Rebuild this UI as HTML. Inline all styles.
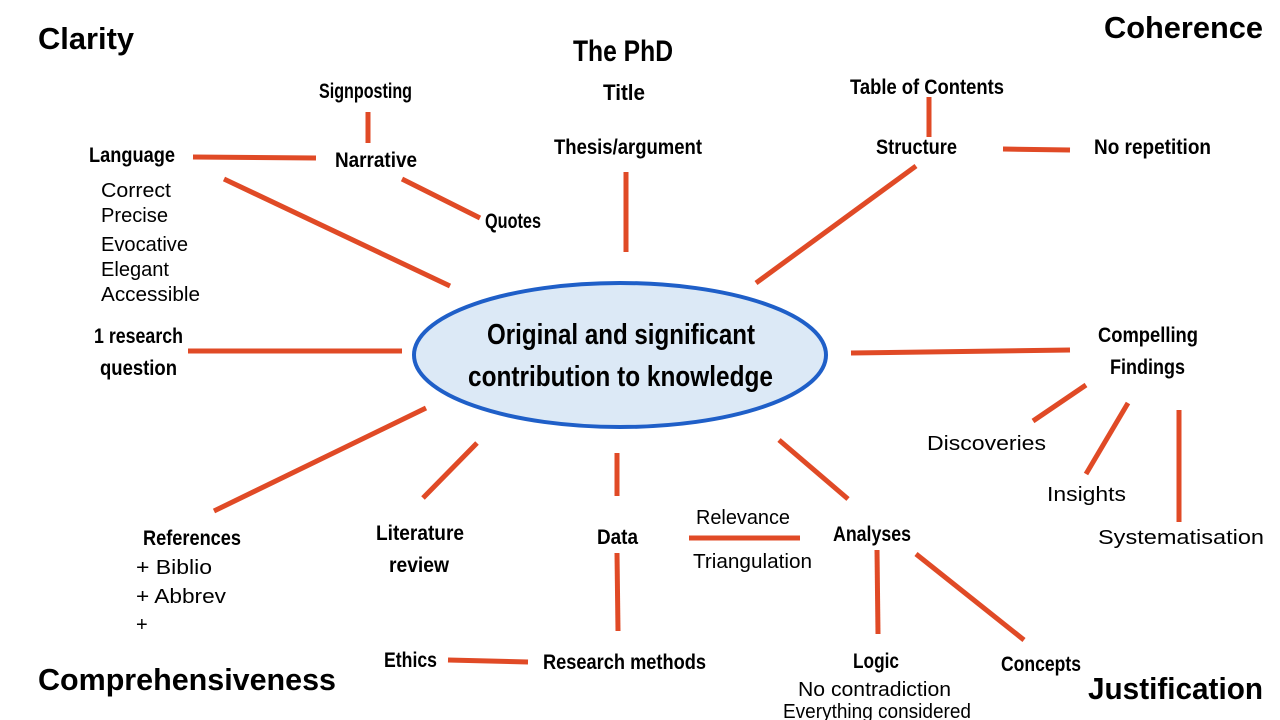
<!DOCTYPE html>
<html><head><meta charset="utf-8"><style>
html,body{margin:0;padding:0;background:#fff;width:1280px;height:720px;overflow:hidden}
svg text{font-family:"Liberation Sans",sans-serif;fill:#000}
.c{font-weight:bold;font-size:21px}
.r{font-size:20px}
.h{font-weight:bold;font-size:30.5px}
line{stroke:#e04a26;stroke-width:5}
</style></head><body>
<svg width="1280" height="720" viewBox="0 0 1280 720" xmlns="http://www.w3.org/2000/svg">
<g>
<line x1="193" y1="157" x2="316" y2="158"/>
<line x1="368" y1="112" x2="368" y2="143"/>
<line x1="402" y1="179" x2="480" y2="218"/>
<line x1="224" y1="179" x2="450" y2="286"/>
<line x1="626" y1="172" x2="626" y2="252"/>
<line x1="916" y1="166" x2="756" y2="283"/>
<line x1="929" y1="97" x2="929" y2="137"/>
<line x1="1003" y1="149" x2="1070" y2="150"/>
<line x1="188" y1="351" x2="402" y2="351"/>
<line x1="851" y1="353" x2="1070" y2="350"/>
<line x1="1086" y1="385" x2="1033" y2="421"/>
<line x1="1128" y1="403" x2="1086" y2="474"/>
<line x1="1179" y1="410" x2="1179" y2="522"/>
<line x1="214" y1="511" x2="426" y2="408"/>
<line x1="423" y1="498" x2="477" y2="443"/>
<line x1="617" y1="453" x2="617" y2="496"/>
<line x1="689" y1="538" x2="800" y2="538"/>
<line x1="779" y1="440" x2="848" y2="499"/>
<line x1="617" y1="553" x2="618" y2="631"/>
<line x1="448" y1="660" x2="528" y2="662"/>
<line x1="877" y1="550" x2="878" y2="634"/>
<line x1="916" y1="554" x2="1024" y2="640"/>
</g>
<ellipse cx="620" cy="355" rx="206" ry="72" fill="#dce9f6" stroke="#1f5fc8" stroke-width="4"/>
<g lengthAdjust="spacingAndGlyphs">
<text class="c" x="487" y="344" style="font-size:29px" textLength="268" lengthAdjust="spacingAndGlyphs">Original and significant</text>
<text class="c" x="468" y="386" style="font-size:29px" textLength="305" lengthAdjust="spacingAndGlyphs">contribution to knowledge</text>

<text class="h" x="38" y="49" textLength="96" lengthAdjust="spacingAndGlyphs">Clarity</text>
<text class="h" x="1104" y="38" textLength="159" lengthAdjust="spacingAndGlyphs">Coherence</text>
<text class="h" x="38" y="690" textLength="298" lengthAdjust="spacingAndGlyphs">Comprehensiveness</text>
<text class="h" x="1088" y="699" textLength="175" lengthAdjust="spacingAndGlyphs">Justification</text>

<text class="c" x="573" y="61" style="font-size:30px" textLength="100" lengthAdjust="spacingAndGlyphs">The PhD</text>
<text class="c" x="603" y="100" style="font-size:22px" textLength="42" lengthAdjust="spacingAndGlyphs">Title</text>
<text class="c" x="554" y="154" textLength="148" lengthAdjust="spacingAndGlyphs">Thesis/argument</text>
<text class="c" x="319" y="98" textLength="93" lengthAdjust="spacingAndGlyphs">Signposting</text>
<text class="c" x="335" y="167" textLength="82" lengthAdjust="spacingAndGlyphs">Narrative</text>
<text class="c" x="89" y="162" textLength="86" lengthAdjust="spacingAndGlyphs">Language</text>
<text class="c" x="485" y="228" textLength="56" lengthAdjust="spacingAndGlyphs">Quotes</text>
<text class="r" x="101" y="197" textLength="70" lengthAdjust="spacingAndGlyphs">Correct</text>
<text class="r" x="101" y="222" textLength="67" lengthAdjust="spacingAndGlyphs">Precise</text>
<text class="r" x="101" y="251" textLength="87" lengthAdjust="spacingAndGlyphs">Evocative</text>
<text class="r" x="101" y="276" textLength="68" lengthAdjust="spacingAndGlyphs">Elegant</text>
<text class="r" x="101" y="301" textLength="99" lengthAdjust="spacingAndGlyphs">Accessible</text>
<text class="c" x="94" y="343" textLength="89" lengthAdjust="spacingAndGlyphs">1 research</text>
<text class="c" x="100" y="375" textLength="77" lengthAdjust="spacingAndGlyphs">question</text>
<text class="c" x="850" y="94" textLength="154" lengthAdjust="spacingAndGlyphs">Table of Contents</text>
<text class="c" x="876" y="154" textLength="81" lengthAdjust="spacingAndGlyphs">Structure</text>
<text class="c" x="1094" y="154" textLength="117" lengthAdjust="spacingAndGlyphs">No repetition</text>
<text class="c" x="1098" y="342" textLength="100" lengthAdjust="spacingAndGlyphs">Compelling</text>
<text class="c" x="1110" y="374" textLength="75" lengthAdjust="spacingAndGlyphs">Findings</text>
<text class="r" x="927" y="450" textLength="119" lengthAdjust="spacingAndGlyphs">Discoveries</text>
<text class="r" x="1047" y="501" textLength="79" lengthAdjust="spacingAndGlyphs">Insights</text>
<text class="r" x="1098" y="544" textLength="166" lengthAdjust="spacingAndGlyphs">Systematisation</text>
<text class="c" x="143" y="545" textLength="98" lengthAdjust="spacingAndGlyphs">References</text>
<text class="r" x="136" y="574" textLength="76" lengthAdjust="spacingAndGlyphs">+ Biblio</text>
<text class="r" x="136" y="603" textLength="90" lengthAdjust="spacingAndGlyphs">+ Abbrev</text>
<text class="r" x="136" y="631">+</text>
<text class="c" x="376" y="540" textLength="88" lengthAdjust="spacingAndGlyphs">Literature</text>
<text class="c" x="389" y="572" textLength="60" lengthAdjust="spacingAndGlyphs">review</text>
<text class="c" x="597" y="544" textLength="41" lengthAdjust="spacingAndGlyphs">Data</text>
<text class="r" x="696" y="524" textLength="94" lengthAdjust="spacingAndGlyphs">Relevance</text>
<text class="r" x="693" y="568" textLength="119" lengthAdjust="spacingAndGlyphs">Triangulation</text>
<text class="c" x="833" y="541" textLength="78" lengthAdjust="spacingAndGlyphs">Analyses</text>
<text class="c" x="384" y="667" textLength="53" lengthAdjust="spacingAndGlyphs">Ethics</text>
<text class="c" x="543" y="669" textLength="163" lengthAdjust="spacingAndGlyphs">Research methods</text>
<text class="c" x="853" y="668" textLength="46" lengthAdjust="spacingAndGlyphs">Logic</text>
<text class="c" x="1001" y="671" textLength="80" lengthAdjust="spacingAndGlyphs">Concepts</text>
<text class="r" x="798" y="696" textLength="153" lengthAdjust="spacingAndGlyphs">No contradiction</text>
<text class="r" x="783" y="718" textLength="188" lengthAdjust="spacingAndGlyphs">Everything considered</text>
</g>
</svg>
</body></html>
